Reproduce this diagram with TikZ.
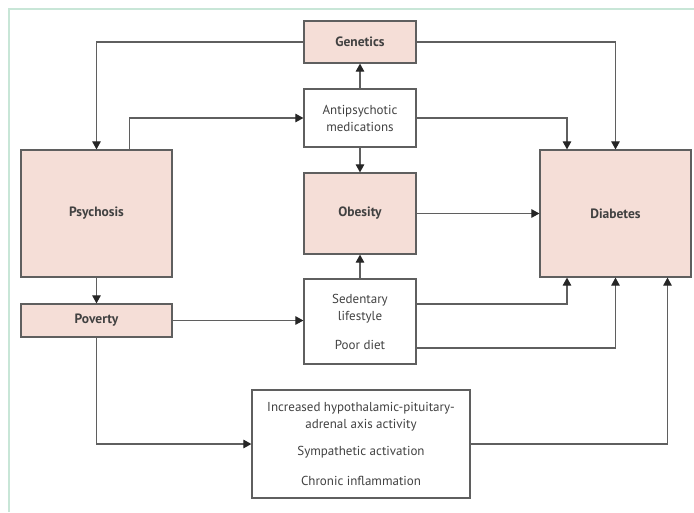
\documentclass[tikz,border=0pt]{standalone}
\usepackage{fontspec}
\setmainfont{PT Sans}
\usetikzlibrary{arrows.meta,positioning}
\definecolor{boxpink}{RGB}{245,222,215}
\definecolor{framegreen}{RGB}{200,230,215}
\definecolor{linegray}{RGB}{95,95,95}
\definecolor{textgray}{RGB}{65,65,65}

\begin{document}
\begin{tikzpicture}[x=1pt,y=-1pt,
    box/.style={draw=linegray, line width=1.2pt, inner sep=0pt, align=center,
      font=\fontsize{13}{17}\selectfont, text=textgray},
    pinkbox/.style={box, fill=boxpink, font=\fontsize{13.5}{17}\selectfont\bfseries},
    arr/.style={draw=linegray, line width=1.1pt, -{Triangle[length=8pt,width=8.5pt,color=black!85]}}]
        \useasboundingbox (0,0) rectangle (694,512);
        \draw[framegreen, line width=1.5pt] (9,512) -- (9,9) -- (694,9);
        \node[pinkbox, minimum width=112pt, minimum height=42pt] (gen) at (360,42) {Genetics};
        \node[box, minimum width=112pt, minimum height=58pt] (anti) at (360,118) {Antipsychotic\\medications};
        \node[pinkbox, minimum width=112pt, minimum height=81pt] (obe) at (360,213.5) {Obesity};
        \node[box, minimum width=112pt, minimum height=85pt] (sed) at (360,321.5) {Sedentary\\lifestyle\\[12pt]Poor diet};
        \node[pinkbox, minimum width=151pt, minimum height=127pt] (psy) at (96.5,213.5) {Psychosis};
        \node[pinkbox, minimum width=151pt, minimum height=33pt] (pov) at (96.5,320.5) {Poverty};
        \node[pinkbox, minimum width=151pt, minimum height=127pt] (dia) at (615.5,213.5) {\raisebox{-4pt}{Diabetes}};
        \node[box, minimum width=218pt, minimum height=108pt] (hpa) at (361,444) {Increased hypothalamic-pituitary-\\adrenal axis activity\\[10pt]Sympathetic activation\\[13pt]Chronic inflammation};
        % genetics
        \draw[arr] (gen.west) -| (psy.north);
        \draw[arr] (gen.east) -| (dia.north);
        % antipsychotics
        \draw[arr] (anti) -- (gen);
        \draw[arr] ([xshift=33pt]psy.north) |- (anti.west);
        \draw[arr] (anti.east) -| ([xshift=-48.5pt]dia.north);
        \draw[arr] (anti) -- (obe);
        % obesity and lifestyle
        \draw[arr] (obe) -- (dia);
        \draw[arr] (sed) -- (obe);
        \draw[arr] ([yshift=17.5pt]sed.east) -| ([xshift=-48.5pt]dia.south);
        \draw[arr] ([yshift=-26.5pt]sed.east) -| (dia.south);
        % poverty
        \draw[arr] (psy) -- (pov);
        \draw[arr] (pov.east) -- (pov.east -| sed.west);
        \draw[arr] (pov.south) |- (hpa.west);
        \draw[arr] (hpa.east) -| ([xshift=52pt]dia.south);
\end{tikzpicture}
\end{document}
